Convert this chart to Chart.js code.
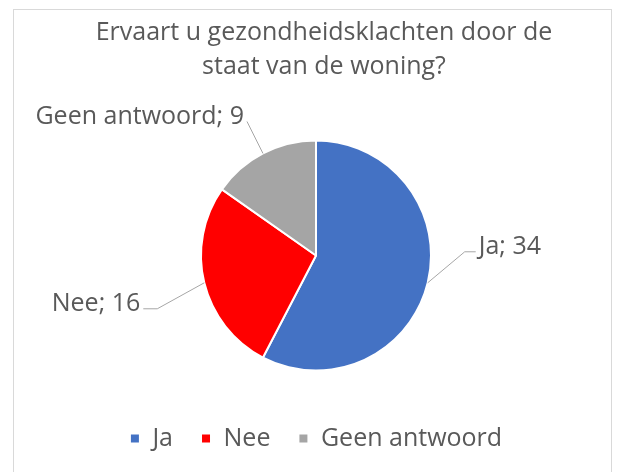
<!DOCTYPE html>
<html lang="nl">
<head>
<meta charset="UTF-8">
<title>Gezondheidsklachten</title>
<script src="https://cdn.jsdelivr.net/npm/chart.js"></script>
<style>
  html, body { margin: 0; padding: 0; background: #fff; }
  .wrap { position: relative; width: 622px; height: 472px; }
  /* kader rond de grafiek */
  .frame { position: absolute; left: 13px; top: 9px; width: 597px; height: 470px; border: 1px solid #d9d9d9; }
  canvas { position: absolute; left: 0; top: 0; }
</style>
</head>
<body>
<div class="wrap">
  <div class="frame"></div>
  <canvas id="pie" width="622" height="472"></canvas>
</div>
<script>
// --- gegevens ---
const categories = ['Ja', 'Nee', 'Geen antwoord'];
const counts = [34, 16, 9];
const colors = ['#4472C4', '#FF0000', '#A5A5A5'];

const FONT = "'Open Sans', sans-serif";

// labels met verbindingslijntjes, zoals in Excel
// dx/dy = knik t.o.v. de rand van het segment, len = horizontaal stukje
const labelLayout = [
  { dx: 37, dy: -31, len: 11, side: 1 },
  { dx: -47, dy: 26, len: 14, side: -1 },
  { dx: -16, dy: -32, len: 0, side: -1 }
];

const leaderLabels = {
  id: 'leaderLabels',
  afterLayout(chart) {
    // titel staat in het origineel iets rechts van het midden
    chart.titleBlock.left += 8;
    chart.titleBlock.right += 8;
  },
  afterDatasetsDraw(chart) {
    const ctx = chart.ctx;
    const meta = chart.getDatasetMeta(0);
    ctx.save();
    ctx.font = '25px ' + FONT;
    ctx.fillStyle = '#595959';
    ctx.strokeStyle = '#a6a6a6';
    ctx.lineWidth = 1;
    ctx.textBaseline = 'middle';
    meta.data.forEach((arc, i) => {
      const p = arc.getProps(['x', 'y', 'startAngle', 'endAngle', 'outerRadius'], true);
      const mid = (p.startAngle + p.endAngle) / 2;
      const ex = p.x + Math.cos(mid) * p.outerRadius;
      const ey = p.y + Math.sin(mid) * p.outerRadius;
      const L = labelLayout[i];
      const kx = ex + L.dx, ky = ey + L.dy;
      const hx = kx + L.side * L.len;
      ctx.beginPath();
      ctx.moveTo(ex, ey);
      ctx.lineTo(kx, ky);
      ctx.lineTo(hx, ky);
      ctx.stroke();
      const txt = categories[i] + '; ' + counts[i];
      ctx.textAlign = L.side > 0 ? 'left' : 'right';
      ctx.fillText(txt, hx + L.side * 3, ky - 5);
    });
    ctx.restore();
  }
};

new Chart(document.getElementById('pie'), {
  type: 'pie',
  data: {
    labels: categories,
    datasets: [{
      data: counts,
      backgroundColor: colors,
      borderColor: '#ffffff',
      borderWidth: 2,
      radius: 115
    }]
  },
  options: {
    responsive: false,
    animation: false,
    layout: { padding: { top: 0, bottom: 11, left: 10, right: 0 } },
    plugins: {
      title: {
        display: true,
        text: ['Ervaart u gezondheidsklachten door de', 'staat van de woning?'],
        color: '#595959',
        font: { family: FONT, size: 25, weight: 'normal', lineHeight: '34px' },
        padding: { top: 16, bottom: 29 }
      },
      legend: {
        position: 'bottom',
        labels: {
          color: '#595959',
          font: { family: FONT, size: 25, lineHeight: '16px' },
          boxWidth: 10,
          boxHeight: 10,
          padding: 28
        }
      },
      tooltip: { enabled: false }
    }
  },
  plugins: [leaderLabels]
});
</script>
</body>
</html>
